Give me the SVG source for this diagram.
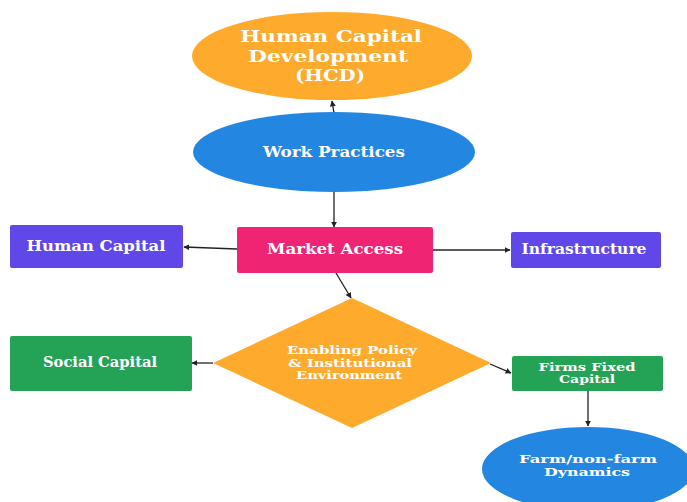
<svg xmlns="http://www.w3.org/2000/svg" width="687" height="502" viewBox="0 0 687 502">
  <defs>
    <marker id="arrow" viewBox="0 0 10 10" refX="9" refY="5" markerWidth="6" markerHeight="6" orient="auto" markerUnits="userSpaceOnUse">
      <path d="M0,0 L10,5 L0,10 z" fill="#222"/>
    </marker>
    <style>
      .lbl { font-family: "DejaVu Serif", "Liberation Serif", serif; font-weight: bold; fill: #ffffff; text-anchor: middle; }
      .edge { stroke: #222; stroke-width: 1.3; fill: none; marker-end: url(#arrow); }
      .orange { fill: #FEAA2D; }
      .blue { fill: #2387E2; }
      .pink { fill: #EF2573; }
      .purple { fill: #6048E8; }
      .green { fill: #24A356; }
    </style>
  </defs>
  <rect width="687" height="502" fill="#ffffff"/>

  <!-- connectors -->
  <g id="connectors">
    <line class="edge" x1="334" y1="113" x2="332" y2="101"/>
    <line class="edge" x1="334" y1="192" x2="334" y2="227"/>
    <line class="edge" x1="237" y1="249" x2="184" y2="247"/>
    <line class="edge" x1="433" y1="250" x2="510" y2="250"/>
    <line class="edge" x1="336" y1="273" x2="351" y2="298"/>
    <line class="edge" x1="213" y1="363" x2="192" y2="363"/>
    <line class="edge" x1="490" y1="364" x2="511" y2="373"/>
    <line class="edge" x1="588" y1="391" x2="588" y2="426"/>
  </g>

  <g id="hcd">
    <ellipse class="orange" cx="332" cy="56" rx="140" ry="44"/>
    <text class="lbl" x="331" y="42" font-size="17" textLength="182" lengthAdjust="spacingAndGlyphs">Human Capital</text>
    <text class="lbl" x="328" y="62" font-size="17" textLength="160" lengthAdjust="spacingAndGlyphs">Development</text>
    <text class="lbl" x="330" y="81" font-size="17" textLength="70" lengthAdjust="spacingAndGlyphs">(HCD)</text>
  </g>

  <g id="work-practices">
    <ellipse class="blue" cx="334" cy="152" rx="141" ry="40"/>
    <text class="lbl" x="334" y="157" font-size="15" textLength="142" lengthAdjust="spacingAndGlyphs">Work Practices</text>
  </g>

  <g id="market-access">
    <rect class="pink" x="237" y="227" width="196" height="46" rx="2"/>
    <text class="lbl" x="335" y="254" font-size="15" textLength="136" lengthAdjust="spacingAndGlyphs">Market Access</text>
  </g>

  <g id="human-capital">
    <rect class="purple" x="10" y="225" width="173" height="43" rx="2"/>
    <text class="lbl" x="96" y="251" font-size="14" textLength="139" lengthAdjust="spacingAndGlyphs">Human Capital</text>
  </g>

  <g id="infrastructure">
    <rect class="purple" x="511" y="232" width="150" height="36" rx="2"/>
    <text class="lbl" x="584" y="254" font-size="14" textLength="125" lengthAdjust="spacingAndGlyphs">Infrastructure</text>
  </g>

  <g id="enabling-policy">
    <polygon class="orange" points="352,298 491,363 352,428 213,363"/>
    <text class="lbl" x="352" y="354" font-size="11" textLength="130" lengthAdjust="spacingAndGlyphs">Enabling Policy</text>
    <text class="lbl" x="350" y="366.5" font-size="11" textLength="124" lengthAdjust="spacingAndGlyphs">&amp; Institutional</text>
    <text class="lbl" x="349" y="379" font-size="11" textLength="106" lengthAdjust="spacingAndGlyphs">Environment</text>
  </g>

  <g id="social-capital">
    <rect class="green" x="10" y="336" width="182" height="55" rx="2"/>
    <text class="lbl" x="100" y="367" font-size="14" textLength="114" lengthAdjust="spacingAndGlyphs">Social Capital</text>
  </g>

  <g id="firms-fixed-capital">
    <rect class="green" x="512" y="356" width="151" height="35" rx="2"/>
    <text class="lbl" x="587" y="371" font-size="10.5" textLength="97" lengthAdjust="spacingAndGlyphs">Firms Fixed</text>
    <text class="lbl" x="587" y="383" font-size="10.5" textLength="56" lengthAdjust="spacingAndGlyphs">Capital</text>
  </g>

  <g id="farm-dynamics">
    <ellipse class="blue" cx="588" cy="469" rx="106" ry="42"/>
    <text class="lbl" x="588" y="463" font-size="11" textLength="138" lengthAdjust="spacingAndGlyphs">Farm/non-farm</text>
    <text class="lbl" x="587" y="476" font-size="11" textLength="86" lengthAdjust="spacingAndGlyphs">Dynamics</text>
  </g>
</svg>
